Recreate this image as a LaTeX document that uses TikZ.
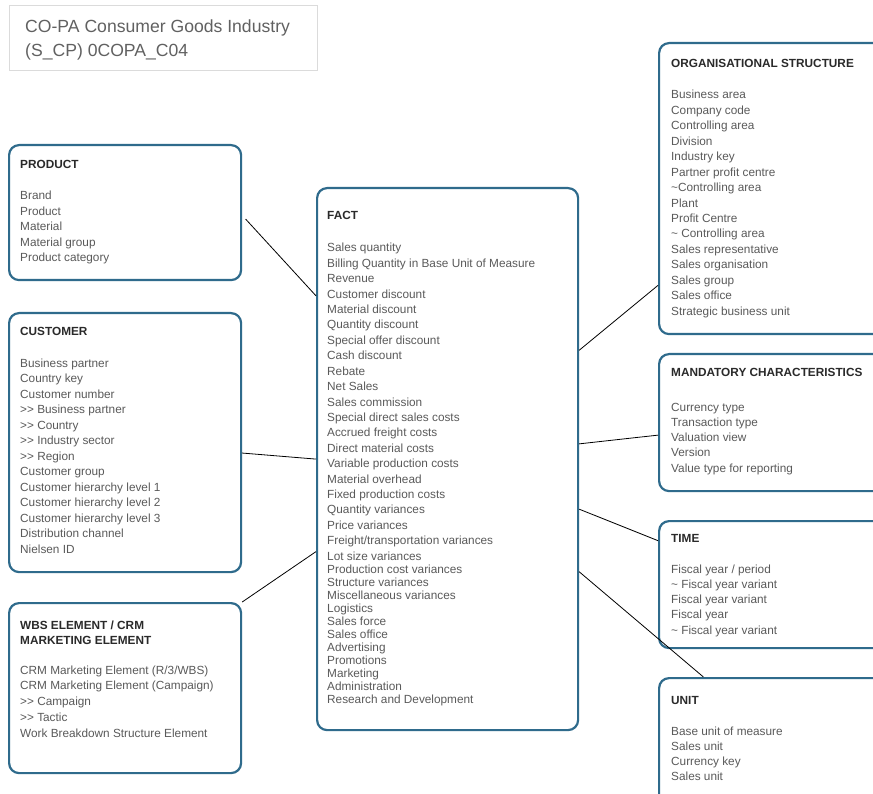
\documentclass[tikz,border=0pt]{standalone}
\usepackage{fontspec}
\setmainfont{Liberation Sans}
\usetikzlibrary{calc}
\definecolor{cardblue}{HTML}{2F6B8C}
\definecolor{itemgray}{HTML}{5A5A5A}
\definecolor{headgray}{HTML}{2A2A2A}
\newcommand{\gtgt}{>\kern0pt>}
\newcommand{\rows}[6][item]{\foreach \t [count=\i] in {#6} \node[#1] (#2-\i) at (#3,{#4+#5*(\i-1)}) {\t};}

\tikzset{
  card/.style={draw=cardblue,line width=2.2pt,rounded corners=10pt,anchor=north west,inner sep=0pt},
  item/.style={anchor=base west,inner sep=0pt,text=itemgray,font=\fontsize{11.8}{15}\selectfont},
  head/.style={anchor=base west,inner sep=0pt,text=headgray,font=\fontsize{11.8}{15}\selectfont\bfseries},
  heading/.style={anchor=base west,inner sep=0pt,text=black!62,font=\fontsize{17.6}{23}\selectfont},
  link/.style={draw=black,line width=0.8pt}
}

\begin{document}
\begin{tikzpicture}[x=1pt,y=-1pt]
  \clip (0,0) rectangle (873,794);
  \fill[white] (0,0) rectangle (873,794);

  \node[draw=black!14,line width=1.4pt,anchor=north west,minimum width=308,minimum height=65] (title) at (9,5) {};
  \node[heading] (title-1) at (25,33) {CO-PA Consumer Goods Industry};
  \node[heading] (title-2) at (25,57) {(S\_CP) 0COPA\_C04};

  \node[card,minimum width=232,minimum height=135] (product)  at (8,144) {};
  \node[card,minimum width=232,minimum height=259] (customer) at (8,312) {};
  \node[card,minimum width=232,minimum height=170] (wbs)      at (8,602) {};
  \node[card,minimum width=261,minimum height=542] (fact)     at (316,187) {};
  \node[card,minimum width=242,minimum height=291] (org)      at (658,42) {};
  \node[card,minimum width=242,minimum height=137] (mand)     at (658,353) {};
  \node[card,minimum width=242,minimum height=127] (time)     at (658,520) {};
  \node[card,minimum width=242,minimum height=153] (unit)     at (658,677) {};

  \node[head] (product-h) at (20,169) {PRODUCT};
  \rows{product}{20}{200}{15.5}{Brand,Product,Material,Material group,Product category}

  \node[head] (customer-h) at (20,336) {CUSTOMER};
  \rows{customer}{20}{367}{15.5}{Business partner,Country key,Customer number,\gtgt{} Business partner,\gtgt{} Country,\gtgt{} Industry sector,\gtgt{} Region,Customer group,Customer hierarchy level 1,Customer hierarchy level 2,Customer hierarchy level 3,Distribution channel,Nielsen ID}

  \node[head] (wbs-h1) at (20,629) {WBS ELEMENT / CRM};
  \node[head] (wbs-h2) at (20,644) {MARKETING ELEMENT};
  \rows{wbs}{20}{674}{15.75}{CRM Marketing Element (R/3/WBS),CRM Marketing Element (Campaign),\gtgt{} Campaign,\gtgt{} Tactic,Work Breakdown Structure Element}

  \node[head] (fact-h) at (327,220) {FACT};
  \rows{fact}{327}{252}{15.4}{Sales quantity,Billing Quantity in Base Unit of Measure,Revenue,Customer discount,Material discount,Quantity discount,Special offer discount,Cash discount,Rebate,Net Sales,Sales commission,Special direct sales costs,Accrued freight costs,Direct material costs,Variable production costs,Material overhead,Fixed production costs,Quantity variances,Price variances,Freight/transportation variances}
  \rows{factb}{327}{560}{13}{Lot size variances,Production cost variances,Structure variances,Miscellaneous variances,Logistics,Sales force,Sales office,Advertising,Promotions,Marketing,Administration,Research and Development}

  \node[head] (org-h) at (671,68) {ORGANISATIONAL STRUCTURE};
  \rows{org}{671}{99}{15.43}{Business area,Company code,Controlling area,Division,Industry key,Partner profit centre,\textasciitilde Controlling area,Plant,Profit Centre,\textasciitilde{} Controlling area,Sales representative,Sales organisation,Sales group,Sales office,Strategic business unit}

  \node[head] (mand-h) at (671,377) {MANDATORY CHARACTERISTICS};
  \rows{mand}{671}{411}{15.25}{Currency type,Transaction type,Valuation view,Version,Value type for reporting}

  \node[head] (time-h) at (671,542) {TIME};
  \rows{time}{671}{573}{15.25}{Fiscal year / period,\textasciitilde{} Fiscal year variant,Fiscal year variant,Fiscal year,\textasciitilde{} Fiscal year variant}

  \node[head] (unit-h) at (671,704) {UNIT};
  \rows{unit}{671}{735}{15.33}{Base unit of measure,Sales unit,Currency key,Sales unit}

  \draw[link,shorten <=5pt] ($(product.north east)!.52!(product.south east)$) -- ($(fact.north west)!.2!(fact.south west)$);
  \draw[link] ($(customer.north east)!.54!(customer.south east)$) -- (fact.west);
  \draw[link] (wbs.north east) -- ($(fact.north west)!.67!(fact.south west)$);
  \draw[link] ($(fact.north east)!.3!(fact.south east)$) -- ($(org.north west)!.83!(org.south west)$);
  \draw[link] ($(fact.north east)!.472!(fact.south east)$) -- ($(mand.north west)!.59!(mand.south west)$);
  \draw[link] ($(fact.north east)!.592!(fact.south east)$) -- ($(time.north west)!.16!(time.south west)$);
  \draw[link] ($(fact.north east)!.707!(fact.south east)$) -- ($(unit.north west)!.186!(unit.north east)$);
\end{tikzpicture}
\end{document}
